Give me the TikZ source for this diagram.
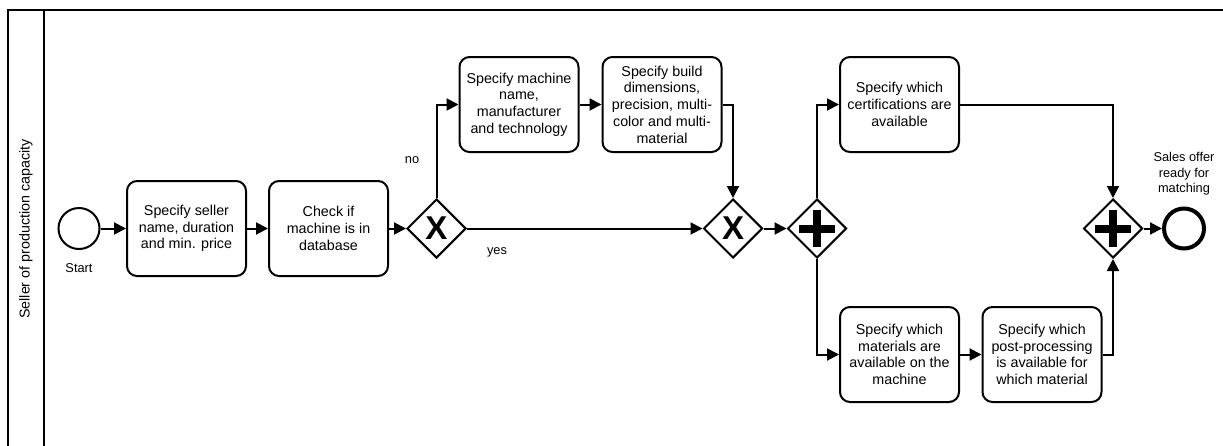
\documentclass[tikz,border=0pt]{standalone}
\usepackage{fontspec}
\setmainfont{Liberation Sans}
\usetikzlibrary{shapes.geometric,arrows.meta}
\tikzset{
  task/.style={draw, line width=2pt, rounded corners=10pt, minimum width=119pt, minimum height=95pt, align=center, inner sep=2pt, font=\fontsize{14.3}{16.7}\selectfont},
  gw/.style={draw, diamond, line width=2pt, minimum size=59pt, inner sep=0pt},
  flow/.style={line width=2pt, -{Triangle[length=12pt,width=12pt]}},
  lbl/.style={align=center, inner sep=0pt, font=\fontsize{12.8}{15.5}\selectfont},
  pool/.style={line width=2.2pt},
  plusbar/.style={line width=8pt}
}
\begin{document}
\begin{tikzpicture}[x=1pt,y=-1pt]
\useasboundingbox (0,0) rectangle (1223,445);
% pool
\coordinate (pTL) at (8,10);
\coordinate (pTR) at (1224,10);
\coordinate (pBL) at (8,446);
\coordinate (dT) at (44,10);
\coordinate (dB) at (44,446);
\draw[pool] (pBL) -- (pTL) -- (pTR);
\draw[pool] (dT) -- (dB);
\node[rotate=90, font=\fontsize{14.3}{16.7}\selectfont, inner sep=0pt] (lane) at (26,229) {Seller of production capacity};
% events
\node[draw, circle, line width=2pt, minimum size=41pt, inner sep=0pt] (start) at (79,228.5) {};
\node[lbl] (startl) at (79,268) {Start};
\node[draw, circle, line width=4pt, minimum size=40pt, inner sep=0pt] (end) at (1184,228.5) {};
\node[lbl] (endl) at (1184,174) {Sales offer\\ready for\\matching};
% tasks
\node[task] (t1) at (186.5,228.5) {Specify seller\\name, duration\\and min. price};
\node[task] (t2) at (328.5,228.5) {Check if\\machine is in\\database};
\node[task] (t3) at (519,104.5) {Specify machine\\name,\\manufacturer\\and technology};
\node[task] (t4) at (662,104.5) {Specify build\\dimensions,\\precision, multi-\\color and multi-\\material};
\node[task] (t5) at (899.5,104.5) {Specify which\\certifications are\\available};
\node[task] (t6) at (899.5,354.5) {Specify which\\materials are\\available on the\\machine};
\node[task] (t7) at (1042,354.5) {Specify which\\post-processing\\is available for\\which material};
% gateways
\node[gw] (g1) at (436.5,228.5) {};
\node[font=\fontsize{33}{33}\bfseries\selectfont, inner sep=0pt] (g1x) at (g1.center) {X};
\node[gw] (g2) at (733,228.5) {};
\node[font=\fontsize{33}{33}\bfseries\selectfont, inner sep=0pt] (g2x) at (g2.center) {X};
\node[gw] (p1) at (817,228.5) {};
\draw[plusbar] (p1.center) +(-18,0) -- +(18,0);
\draw[plusbar] (p1.center) +(0,-18.5) -- +(0,18.5);
\node[gw] (p2) at (1113,228.5) {};
\draw[plusbar] (p2.center) +(-18,0) -- +(18,0);
\draw[plusbar] (p2.center) +(0,-18.5) -- +(0,18.5);
% labels
\node[lbl] (nol) at (412,160) {no};
\node[lbl] (yesl) at (497,252) {yes};
% flows
\draw[flow] (start) -- (t1);
\draw[flow] (t1) -- (t2);
\draw[flow] (t2) -- (g1.west);
\draw[flow] (g1.north) |- (t3.west);
\draw[flow] (g1.east) -- (g2.west);
\draw[flow] (t3) -- (t4);
\draw[flow] (t4.east) -| (g2.north);
\draw[flow] (g2.east) -- (p1.west);
\draw[flow] (p1.north) |- (t5.west);
\draw[flow] (p1.south) |- (t6.west);
\draw[flow] (t6) -- (t7);
\draw[flow] (t5.east) -| (p2.north);
\draw[flow] (t7.east) -| (p2.south);
\draw[flow] (p2.east) -- (end.west);
\end{tikzpicture}
\end{document}
